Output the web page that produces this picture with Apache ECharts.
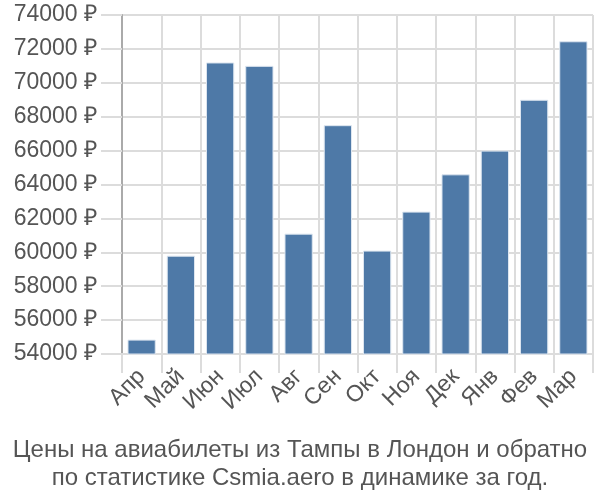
<!DOCTYPE html>
<html><head><meta charset="utf-8">
<script src="https://cdn.jsdelivr.net/npm/echarts@6/dist/echarts.min.js"></script>
<style>html,body{margin:0;padding:0;background:#fff}#c{width:600px;height:500px}</style>
</head><body><div id="c"></div>
<script>
const categories = ['Апр','Май','Июн','Июл','Авг','Сен','Окт','Ноя','Дек','Янв','Фев','Мар'];
const prices = [54850, 59800, 71200, 71000, 61100, 67500, 60100, 62400, 64600, 66000, 69000, 72450];
const titleLines = ['Цены на авиабилеты из Тампы в Лондон и обратно','по статистике Csmia.aero в динамике за год.'];
const chart = echarts.init(document.getElementById('c'));
chart.setOption({
  animation:false,
  textStyle:{fontFamily:'Liberation Sans'},
  title:{text:titleLines.join('\n'),left:'center',top:431,textStyle:{fontSize:24,fontWeight:'normal',color:'#555',lineHeight:28,fontFamily:'Liberation Sans'}},
  grid:{left:122,right:7,top:15,bottom:146},
  xAxis:{type:'category',data:categories,
    axisLine:{lineStyle:{color:'#dcdcdc',width:2}},
    axisTick:{show:true,length:19,lineStyle:{color:'#dcdcdc',width:2}},
    splitLine:{show:true,lineStyle:{color:'#dcdcdc',width:2}},
    axisLabel:{rotate:45,fontSize:23,color:'#555',margin:19,interval:0}},
  yAxis:{type:'value',min:54000,max:74000,interval:2000,
    axisLine:{show:true,lineStyle:{color:'#aaa',width:2}},
    axisTick:{show:true,length:21,lineStyle:{color:'#dcdcdc',width:2}},
    splitLine:{show:true,lineStyle:{color:'#dcdcdc',width:2}},
    axisLabel:{fontSize:23,color:'#555',margin:25,formatter:v=>v+' ₽'}},
  series:[{type:'bar',data:prices,barWidth:'72%',
    itemStyle:{color:'#4e79a7',borderColor:'#dde6f0',borderWidth:1}}]
});
</script></body></html>
